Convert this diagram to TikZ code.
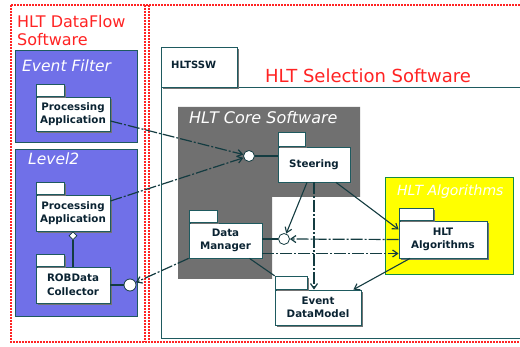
\documentclass[tikz,border=0pt]{standalone}
\usepackage{fontspec}
\setmainfont{DejaVu Sans}
\usetikzlibrary{arrows.meta,shapes.geometric,shadows}
\definecolor{redc}{RGB}{255,35,35}
\definecolor{bluec}{RGB}{112,112,232}
\definecolor{borderc}{RGB}{30,90,95}
\definecolor{greyc}{RGB}{112,112,112}
\definecolor{yellowc}{RGB}{255,255,0}
\definecolor{linec}{RGB}{20,60,65}
\definecolor{textc}{RGB}{10,35,50}
\tikzset{
  reddot/.style={draw=redc, line width=2.6pt, dash pattern=on 1.6pt off 1.4pt},
  frame/.style={draw=borderc, line width=0.9pt},
  bluebox/.style={draw=borderc, fill=bluec, line width=0.9pt},
  yellowbox/.style={draw=borderc!70!green, fill=yellowc, line width=0.8pt},
  pkgshadow/.style={drop shadow={shadow xshift=1.6pt, shadow yshift=-1.6pt, fill=black!55, opacity=1}},
  pkgbody/.style={draw=borderc, fill=white, line width=0.8pt, pkgshadow, inner sep=0pt,
    align=center, text=textc, font=\bfseries\fontsize{10.3}{13.5}\selectfont},
  pkgtab/.style={draw=borderc, fill=white, line width=0.8pt, pkgshadow, inner sep=0pt,
    minimum height=12pt, anchor=south west},
  ifc/.style={circle, draw=linec, fill=white, line width=0.8pt, minimum size=11pt, inner sep=0pt},
  agg/.style={diamond, draw=linec, fill=white, line width=0.7pt, minimum size=8pt, inner sep=0pt},
  conn/.style={draw=linec, line width=1.1pt},
  dconn/.style={draw=linec, line width=1.2pt, dash pattern=on 12pt off 2pt on 2pt off 2pt},
  arr/.style={-{Straight Barb[length=5pt,width=7pt]}},
  itlabel/.style={text=white, anchor=base west, inner sep=0pt, font=\itshape\fontsize{#1}{#1}\selectfont},
  redlabel/.style={text=redc, anchor=base west, inner sep=0pt, font=\fontsize{#1}{#1}\selectfont}
}
\begin{document}
\begin{tikzpicture}[x=1pt,y=-1pt]
\useasboundingbox (0,0) rectangle (520,347);
\fill[white] (0,0) rectangle (520,347);

% HLT Selection Software package
\draw[frame, fill=white] (161,87) rectangle (525,338);
\node[draw=borderc, fill=white, line width=0.9pt, pkgshadow, minimum width=76pt, minimum height=40pt, inner sep=0pt, anchor=north west] (ssw) at (161,47) {};
\node[anchor=base west, inner sep=0pt, text=textc, font=\bfseries\fontsize{10}{12}\selectfont] (sswt) at (171,69) {HLTSSW};
\node[redlabel=18] (sswlabel) at (265,83) {HLT Selection Software};

% red dotted frame
\draw[reddot] (11,5) -- (530,5);
\draw[reddot] (11,5) -- (11,342) -- (530,342);
\draw[reddot] (145,5) -- (145,342);
\draw[reddot] (149,5) -- (149,342);
\node[redlabel=16] (dfl1) at (17,28) {HLT DataFlow};
\node[redlabel=16] (dfl2) at (17,46) {Software};

% Event Filter and Level2
\draw[bluebox] (15,50) rectangle (137,142);
\node[itlabel=15.5] (efl) at (22,72) {Event Filter};
\draw[bluebox] (15,149) rectangle (137,316);
\node[itlabel=15.5] (l2l) at (28,165) {Level2};

% HLT Core Software
\fill[greyc] (178,107) -- (360,107) -- (360,197) -- (272,197) -- (272,279) -- (178,279) -- cycle;
\node[itlabel=16] (core) at (189,124) {HLT Core Software};

% HLT Algorithms
\draw[yellowbox] (385,177) rectangle (513,274);
\node[itlabel=14] (algl) at (397,196) {HLT Algorithms};

% packages
\node[pkgbody, minimum width=74pt, minimum height=34pt] (efpa) at (73,114) {Processing\\Application};
\node[pkgtab, minimum width=28pt] (efpat) at (efpa.north west) {};
\node[pkgbody, minimum width=74pt, minimum height=36pt] (l2pa) at (73,213) {Processing\\Application};
\node[pkgtab, minimum width=28pt] (l2pat) at (l2pa.north west) {};
\node[pkgbody, minimum width=74pt, minimum height=36pt] (rob) at (73,285) {ROBData\\Collector};
\node[pkgtab, minimum width=28pt] (robt) at (rob.north west) {};
\node[pkgbody, minimum width=72pt, minimum height=35pt] (steer) at (314,164.5) {Steering};
\node[pkgtab, minimum width=27pt, minimum height=14pt] (steert) at (steer.north west) {};
\node[pkgbody, minimum width=73pt, minimum height=35pt] (dm) at (225.5,240.5) {Data\\Manager};
\node[pkgtab, minimum width=28pt] (dmt) at (dm.north west) {};
\node[pkgbody, minimum width=86pt, minimum height=35pt] (edm) at (318,307.5) {Event\\DataModel};
\node[pkgtab, minimum width=32pt, minimum height=13pt] (edmt) at (edm.north west) {};
\node[pkgbody, minimum width=88pt, minimum height=37pt] (alg) at (443,239.5) {HLT\\Algorithms};
\node[pkgtab, minimum width=34pt] (algt) at (alg.north west) {};

% interfaces
\node[ifc] (c1) at (249,156) {};
\node[ifc] (c2) at (284,239) {};
\node[ifc, minimum size=12pt] (c3) at (130,285) {};
\node[agg, anchor=north] (d1) at (l2pa.south) {};

% connectors
\draw[conn] (c1.east) -- (c1 -| steer.west);
\draw[dconn, arr] ([yshift=-7pt]efpa.east) -- (c1);
\draw[dconn, arr] ([yshift=12pt]l2pa.east) -- (c1);
\draw[conn] (d1.south) -- (d1 |- rob.north);
\draw[conn] (rob.east) -- (c3);
\draw[dconn, arr] (dm.south west) -- (c3);
\draw[conn] (c2 -| dm.east) -- (c2);
\draw[conn, arr] ([xshift=-7pt]steer.south) -- (c2);
\draw[dconn, arr] (steer.south) -- (steer.south |- edm.north);
\draw[conn, arr] ([xshift=22pt]steer.south) -- ([yshift=10pt]alg.west);
\draw[dconn, arr] (alg.west) -- (c2);
\draw[dconn, arr] ([yshift=-13pt]dm.east) -- ([yshift=-13pt]dm.east -| alg.west);
\draw[conn, arr] ([xshift=-33pt]alg.south) -- ([xshift=-8pt]edm.north east);
\draw[conn] ([xshift=24pt]dm.south) -- (edmt.north west);
\end{tikzpicture}
\end{document}
